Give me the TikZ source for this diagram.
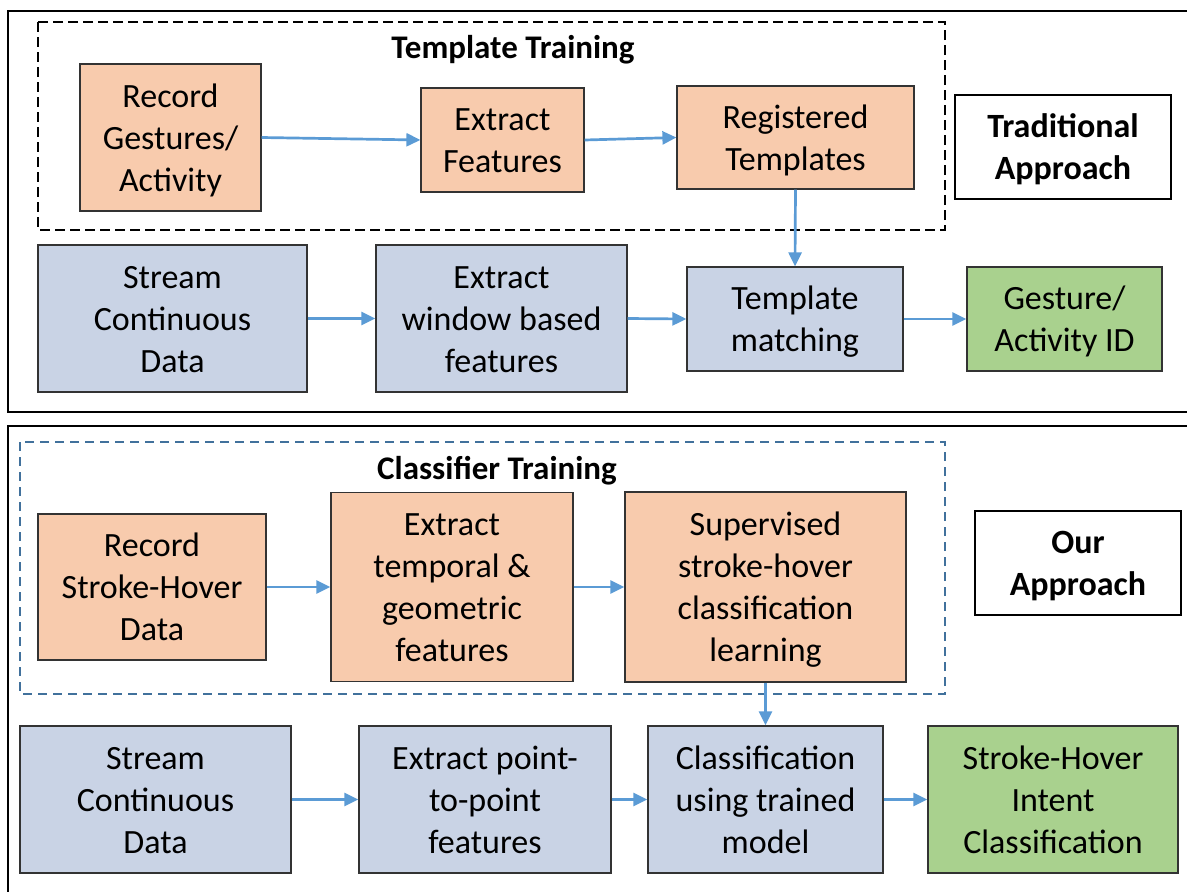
\documentclass[tikz,border=0pt]{standalone}
\usepackage{fontspec}
\setmainfont{Carlito}
\usetikzlibrary{arrows.meta}
\definecolor{orangef}{RGB}{248,203,173}
\definecolor{bluef}{RGB}{201,211,229}
\definecolor{greenf}{RGB}{169,209,142}
\definecolor{arrowc}{RGB}{91,155,213}
\definecolor{dashblue}{RGB}{65,113,156}
\newcommand\fs{\rule[-9.5pt]{0pt}{42pt}}
\begin{document}
\begin{tikzpicture}[x=1pt,y=-1pt,
  txt/.style={font=\fontsize{34}{42}\selectfont, align=center, inner sep=0pt},
  base/.style={txt, draw=black!80, line width=1.2pt, minimum width=#1},
  obox/.style={base=#1, fill=orangef},
  bbox/.style={base=#1, fill=bluef},
  gbox/.style={base=#1, fill=greenf},
  lbox/.style={txt, font=\fontsize{34}{42}\selectfont\bfseries, draw=black, line width=1.8pt, fill=white, minimum width=#1},
  ttl/.style={font=\fontsize{33}{40}\selectfont\bfseries, inner sep=0pt},
  frame/.style={draw=black, line width=2pt},
  arr/.style={draw=arrowc, line width=2.7pt, -{Triangle[length=14pt,width=13pt]}},
]
\useasboundingbox (0,0) rectangle (1187,892);
% outer frames
\draw[frame] (8,11) rectangle (1195,412);
\draw[frame] (8,426) rectangle (1195,900);
% dashed groups
\draw[black, line width=2pt, dash pattern=on 10pt off 5pt] (38,22) rectangle (945,230);
\draw[dashblue, line width=2pt, dash pattern=on 9pt off 6pt] (20,442) rectangle (945,694);
\node[ttl] (tt) at (513,50) {Template Training};
\node[ttl] (ct) at (497,471) {Classifier Training};

% top section
\node[obox=181pt, minimum height=147pt] (rec1) at (170.5,137.5) {\fs Record\\Gestures/\\\fs Activity};
\node[obox=163pt, minimum height=104pt] (ext1) at (502.5,140) {\fs Extract\\\fs Features};
\node[obox=237pt, minimum height=103pt] (reg) at (795.5,137.5) {\fs Registered\\\fs Templates};
\node[lbox=216pt, minimum height=104pt] (trad) at (1063,147) {\fs Traditional\\\fs Approach};
\node[bbox=269pt, minimum height=147pt] (str1) at (172.5,318.5) {\fs Stream\\Continuous\\\fs Data};
\node[bbox=251pt, minimum height=147pt] (win) at (501.5,318.5) {\fs Extract\\window based\\\fs features};
\node[bbox=216pt, minimum height=104pt] (tm) at (795,319) {\fs Template\\\fs matching};
\node[gbox=195pt, minimum height=104pt] (gid) at (1064.5,319) {\fs Gesture/\\\fs Activity ID};

\draw[arr] (rec1.east) -- (ext1.west);
\draw[arr] (ext1.east) -- (reg.west);
\draw[arr] (reg.south) -- (tm.north);
\draw[arr] (str1.east) -- (win.west);
\draw[arr] (win.east) -- (tm.west);
\draw[arr] (tm.east) -- (gid.west);

% bottom section
\node[obox=228pt, minimum height=146pt] (rec2) at (152,587) {\fs Record\\Stroke-Hover\\\fs Data};
\node[obox=242pt, minimum height=189pt] (ext2) at (452,587) {\fs Extract\\temporal \&\\geometric\\\fs features};
\node[obox=281pt, minimum height=190pt] (sup) at (765.5,587) {\fs Supervised\\stroke-hover\\classification\\\fs learning};
\node[lbox=206pt, minimum height=104pt] (our) at (1078,563) {\fs Our\\\fs Approach};
\node[bbox=271pt, minimum height=147pt] (str2) at (155.5,799.5) {\fs Stream\\Continuous\\\fs Data};
\node[bbox=252pt, minimum height=147pt] (p2p) at (485,799.5) {\fs Extract point-\\to-point\\\fs features};
\node[bbox=235pt, minimum height=147pt] (cls) at (765.5,799.5) {\fs Classification\\using trained\\\fs model};
\node[gbox=250pt, minimum height=147pt] (shi) at (1053,799.5) {\fs Stroke-Hover\\Intent\\\fs Classification};

\draw[arr] (rec2.east) -- (ext2.west);
\draw[arr] (ext2.east) -- (sup.west);
\draw[arr] (sup.south) -- (cls.north);
\draw[arr] (str2.east) -- (p2p.west);
\draw[arr] (p2p.east) -- (cls.west);
\draw[arr] (cls.east) -- (shi.west);
\end{tikzpicture}
\end{document}
